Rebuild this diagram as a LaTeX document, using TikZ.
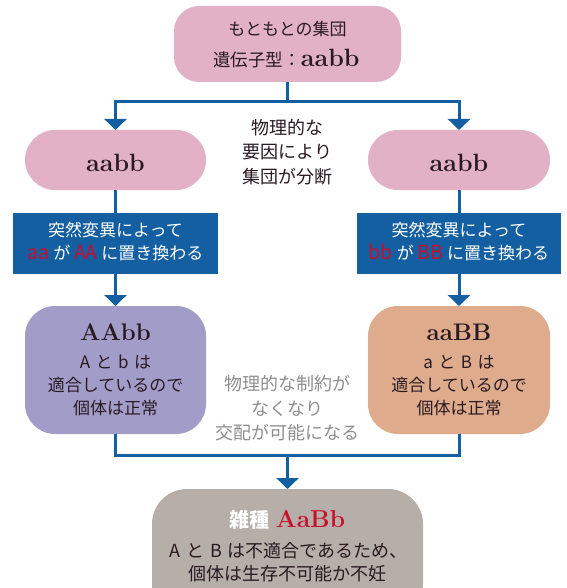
\documentclass[tikz,border=0pt]{standalone}
\usepackage{fontspec}
\newfontfamily\jp{Noto Sans CJK JP}
\usetikzlibrary{arrows.meta}
\definecolor{pinkc}{HTML}{E2B1C6}
\definecolor{bluec}{HTML}{135FA1}
\definecolor{purpc}{HTML}{A29CC9}
\definecolor{orangec}{HTML}{DEAB8C}
\definecolor{grayc}{HTML}{B6AEA8}
\definecolor{darkc}{HTML}{2A1B22}
\definecolor{redc}{HTML}{C8102E}
\definecolor{midgray}{HTML}{8E8E8E}
\tikzset{
  boxbase/.style={inner sep=0pt, outer sep=0pt, draw=none},
  jpt/.style={font=\jp\fontsize{17}{17}\selectfont, text=darkc, inner sep=0pt, anchor=base},
  jpw/.style={font=\jp\fontsize{17}{17}\selectfont, text=white, inner sep=0pt, anchor=base},
  jpm/.style={font=\jp\fontsize{18}{18}\selectfont, text=darkc, inner sep=0pt, anchor=base},
  geno/.style={font=\rmfamily\bfseries\fontsize{25}{25}\selectfont, text=darkc, inner sep=0pt, anchor=base},
  conn/.style={draw=bluec, line width=3pt},
  arr/.style={conn, -{Triangle[width=22pt,length=11pt]}},
}
\newcommand{\gn}[1]{{\rmfamily\bfseries\fontsize{25}{25}\selectfont #1}}
\newcommand{\rd}[1]{{\color{redc}\fontsize{19.5}{19.5}\selectfont #1}}
\newcommand{\wsp}{\hspace{0.32em}}
\begin{document}
\begin{tikzpicture}[x=1pt,y=-1pt]
\useasboundingbox (0,0) rectangle (566,588);
% boxes
\node[boxbase, fill=pinkc, minimum width=227pt, minimum height=76pt, rounded corners=25pt] (top) at (287.5,44) {};
\node[boxbase, fill=pinkc, minimum width=181pt, minimum height=60pt, rounded corners=30pt] (pillL) at (115.5,160) {};
\node[boxbase, fill=pinkc, minimum width=182pt, minimum height=60pt, rounded corners=30pt] (pillR) at (459,160) {};
\node[boxbase, fill=bluec, minimum width=205pt, minimum height=61pt] (mutL) at (115.5,243.5) {};
\node[boxbase, fill=bluec, minimum width=204pt, minimum height=61pt] (mutR) at (459,243.5) {};
\node[boxbase, fill=purpc, minimum width=181pt, minimum height=128pt, rounded corners=30pt] (AAbb) at (115.5,370) {};
\node[boxbase, fill=orangec, minimum width=182pt, minimum height=128pt, rounded corners=30pt] (aaBB) at (459,370) {};
\node[boxbase, fill=grayc, minimum width=271pt, minimum height=130pt, rounded corners=35pt] (hyb) at (287.5,554) {};
% connectors
\coordinate (split) at (287.5,101.5);
\draw[conn] (top.south) -- (split);
\draw[arr] (split) -| (pillL.north);
\draw[arr] (split) -| (pillR.north);
\draw[conn] (pillL.south) -- (mutL.north);
\draw[conn] (pillR.south) -- (mutR.north);
\draw[arr] (mutL.south) -- (AAbb.north);
\draw[arr] (mutR.south) -- (aaBB.north);
\coordinate (jl) at (115.5,455);
\coordinate (jr) at (459,455);
\coordinate (jm) at (287.5,455);
\draw[conn] (AAbb.south) -- (jl) -- (jr) -- (aaBB.south);
\draw[arr] (jm) -- (hyb.north);
% top box text
\node[jpt] (t1) at (287.5,35.5) {もともとの集団};
\node[jpt, font=\jp\fontsize{17.5}{17.5}\selectfont] (t2) at (286.5,66.5) {遺伝子型：\gn{aabb}};
% pills
\node[geno] (pl) at (115.5,171.5) {aabb};
\node[geno] (pr) at (459,171.5) {aabb};
% middle text 1
\node[jpm] (m1) at (287.5,135) {物理的な};
\node[jpm] (m2) at (287.5,159) {要因により};
\node[jpm] (m3) at (287.5,183) {集団が分断};
% mutation boxes
\node[jpw] (ml1) at (115.5,236.5) {突然変異によって};
\node[jpw] (ml2) at (115.5,259.5) {\rd{aa} が \rd{AA} に置き換わる};
\node[jpw] (mr1) at (459,236.5) {突然変異によって};
\node[jpw] (mr2) at (459,259.5) {\rd{bb} が \rd{BB} に置き換わる};
% AAbb box
\node[geno, font=\rmfamily\bfseries\fontsize{24}{24}\selectfont] (g1) at (115.5,340) {AAbb};
\node[jpt] (a1) at (115.5,368.5) {A\wsp と\wsp b\wsp は};
\node[jpt] (a2) at (115.5,391.5) {適合しているので};
\node[jpt] (a3) at (115.5,414.5) {個体は正常};
% aaBB box
\node[geno, font=\rmfamily\bfseries\fontsize{24}{24}\selectfont] (g2) at (459,340) {aaBB};
\node[jpt] (b1) at (459,368.5) {a\wsp と\wsp B\wsp は};
\node[jpt] (b2) at (459,391.5) {適合しているので};
\node[jpt] (b3) at (459,414.5) {個体は正常};
% middle text 2
\node[jpm, text=midgray] (n1) at (287.5,390.5) {物理的な制約が};
\node[jpm, text=midgray] (n2) at (287.5,415) {なくなり};
\node[jpm, text=midgray] (n3) at (287.5,439.5) {交配が可能になる};
% hybrid box
\node[inner sep=0pt, anchor=base] (h1) at (287.5,527) {{\jp\bfseries\fontsize{20}{20}\selectfont\color{white}雑種}\hspace{6pt}{\rmfamily\bfseries\fontsize{24.5}{24.5}\selectfont\color{redc}AaBb}};
\node[jpm] (h2) at (288.5,557) {A\wsp と\wsp B\wsp は不適合であるため、};
\node[jpm] (h3) at (287.5,580) {個体は生存不可能か不妊};
\end{tikzpicture}
\end{document}
